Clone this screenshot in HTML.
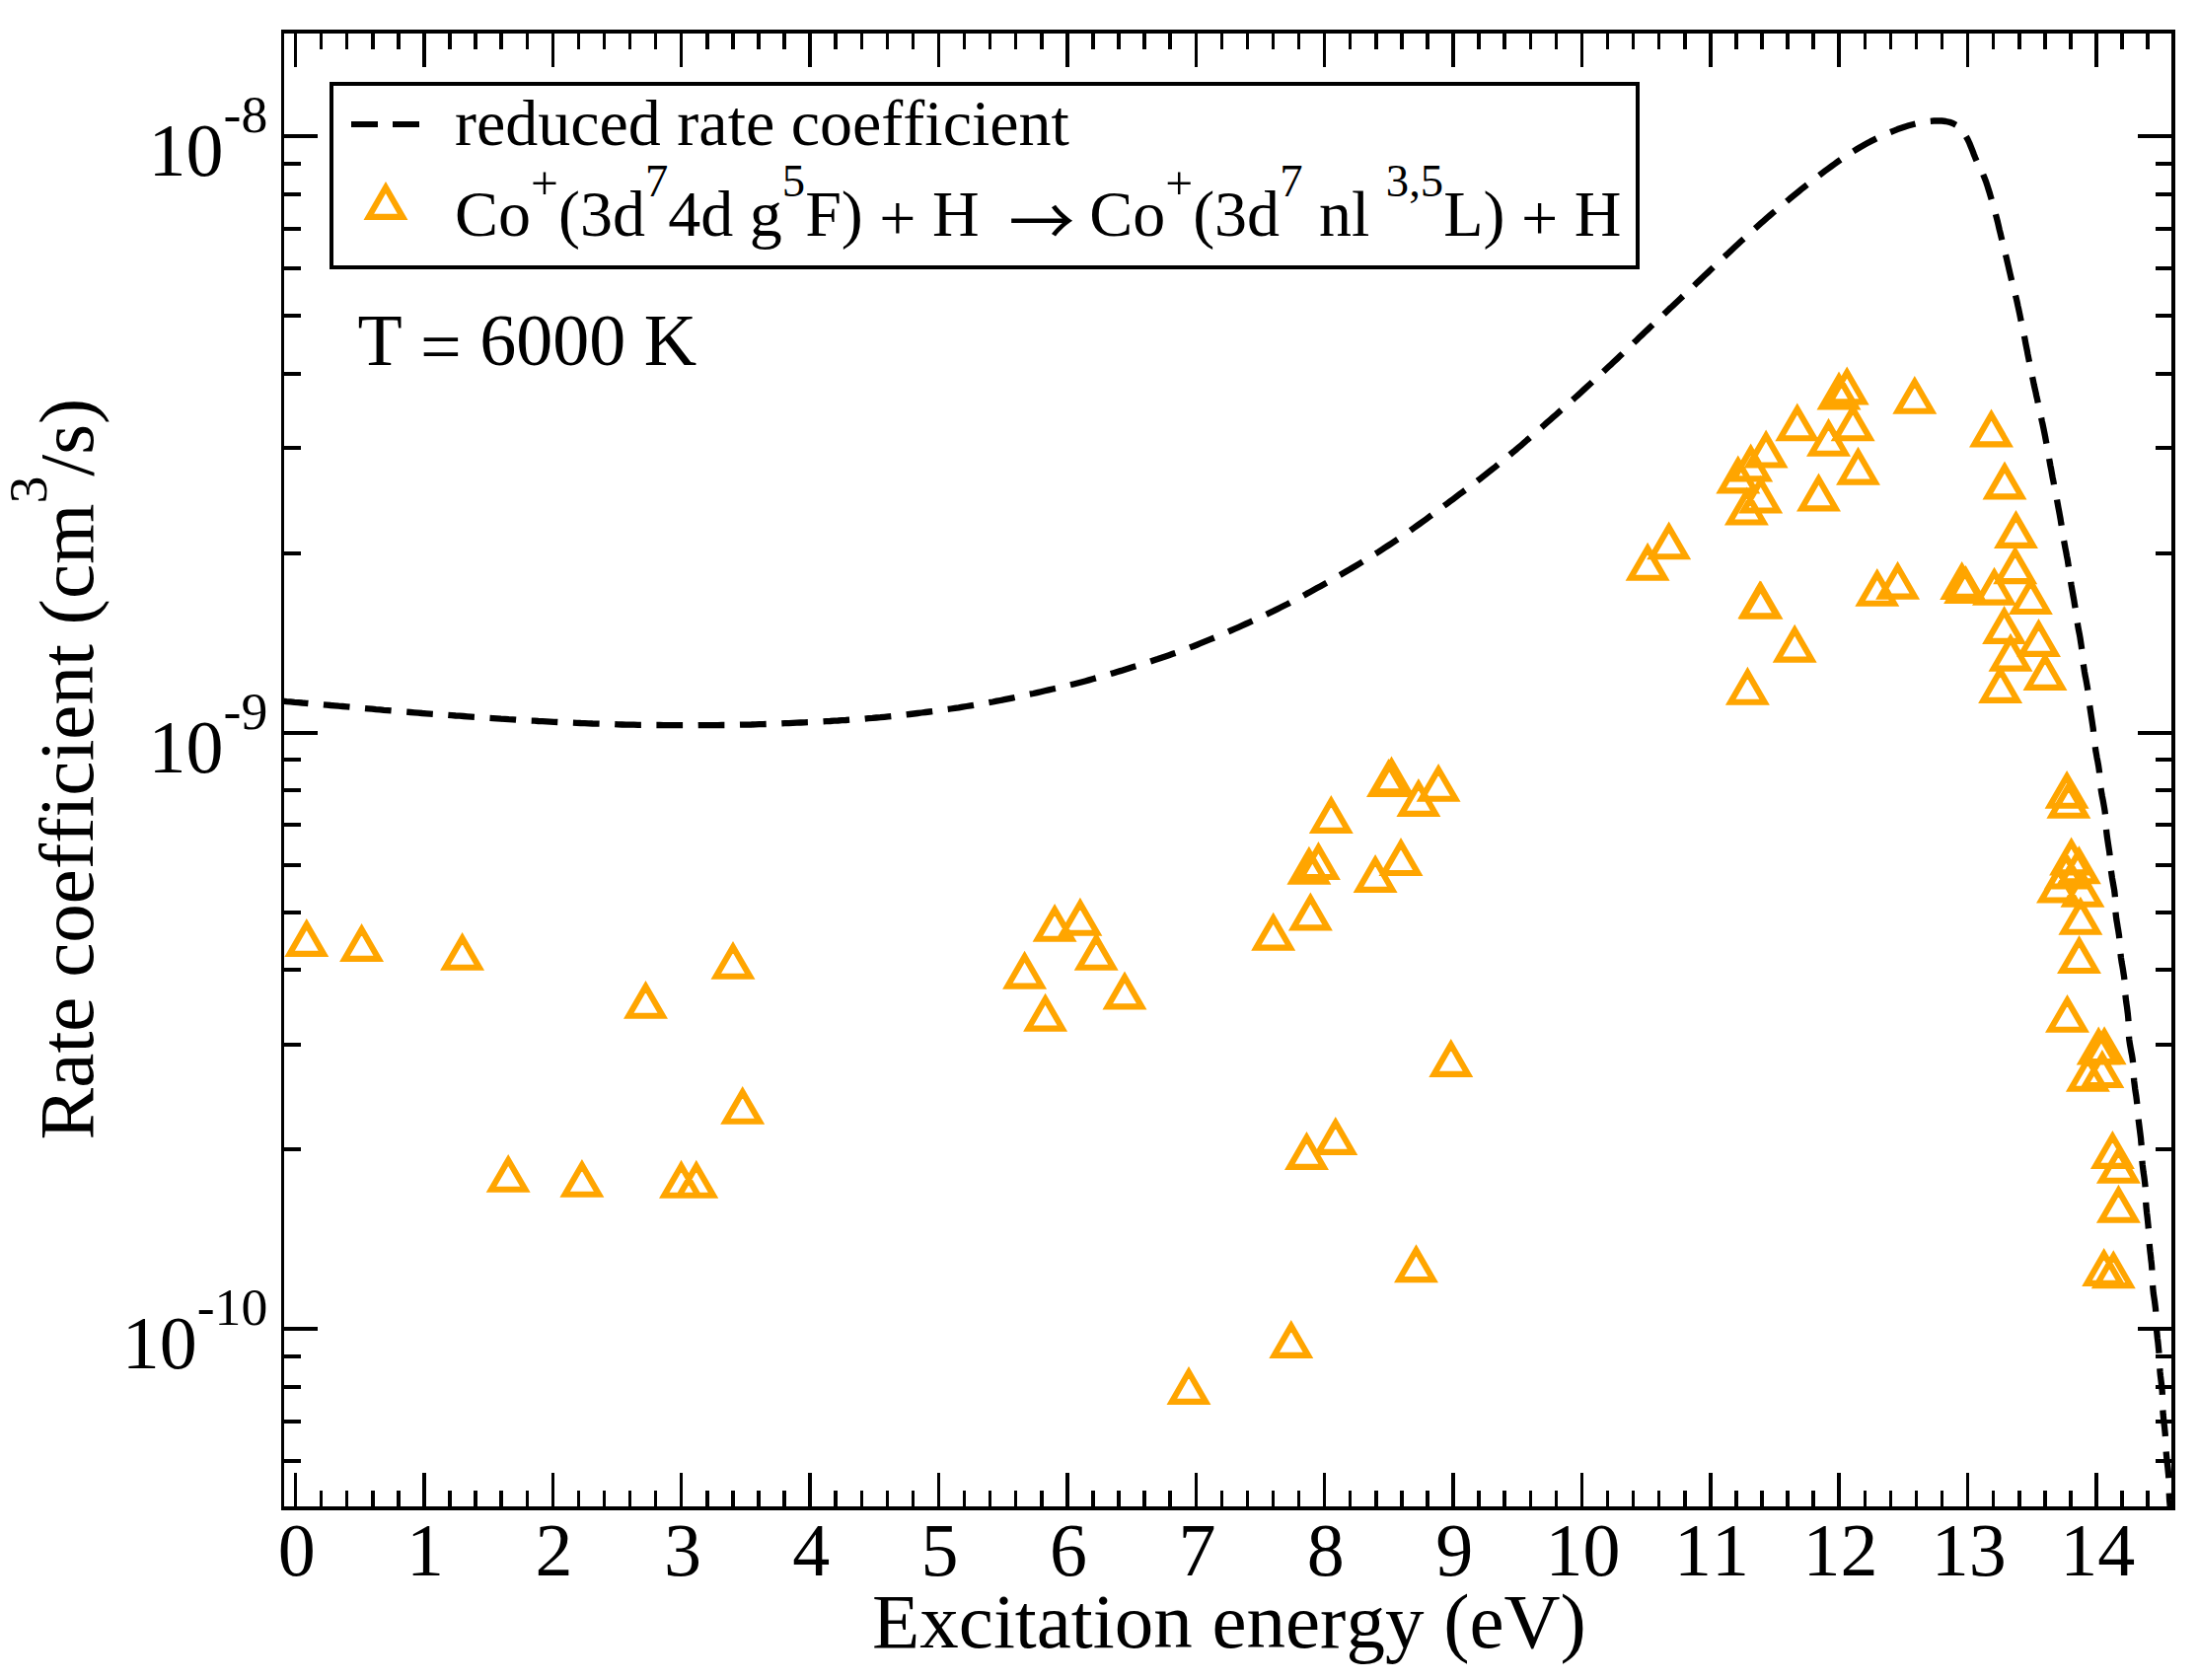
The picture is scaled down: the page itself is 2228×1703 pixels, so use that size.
<!DOCTYPE html>
<html lang="en"><head><meta charset="utf-8"><title>Rate coefficient vs excitation energy</title>
<style>
html,body{margin:0;padding:0;background:#fff;}
svg{display:block;}
text{font-family:"Liberation Serif","Times New Roman",Times,serif;fill:#000;font-variant-ligatures:none;font-feature-settings:"liga" 0,"clig" 0,"kern" 0;font-kerning:none;}
</style></head><body>
<svg width="2228" height="1703" viewBox="0 0 2228 1703">
<rect x="0" y="0" width="2228" height="1703" fill="#fff"/>
<g fill="none" stroke="#000" stroke-width="6.3" stroke-linecap="butt" stroke-linejoin="round">
<path d="M286.5 710.7L290.5 711.1L294.5 711.4L298.5 711.8L302.4 712.1L306.4 712.5L310.4 712.8L312.4 713.0M327.9 714.3L331.3 714.6L335.3 715.0L339.3 715.3L343.3 715.7L347.3 716.0L351.3 716.4L354.5 716.7M370.0 718.1L373.2 718.4L377.1 718.7L381.1 719.1L385.1 719.4L389.1 719.8L393.1 720.1L396.6 720.4M412.2 721.7L416.0 722.0L420.0 722.3L424.0 722.6L428.0 723.0L432.0 723.3L435.9 723.6L438.8 723.8M454.3 724.9L457.9 725.2L461.9 725.5L465.9 725.7L469.9 726.0L473.8 726.3L477.8 726.6L480.9 726.8M496.5 727.9L499.8 728.1L503.8 728.4L507.8 728.7L511.8 728.9L515.7 729.2L519.7 729.4L523.1 729.7M538.7 730.6L541.7 730.7L545.7 731.0L549.7 731.2L553.7 731.4L557.7 731.6L561.7 731.8L565.3 732.0M580.9 732.6L584.6 732.8L588.6 733.0L592.6 733.1L596.6 733.3L600.6 733.5L604.6 733.6L607.6 733.7M623.2 734.2L626.6 734.4L630.6 734.5L634.6 734.6L638.6 734.7L642.6 734.7L646.6 734.8L649.9 734.8M665.4 735.0L668.6 735.0L672.6 735.1L676.6 735.1L680.6 735.1L684.6 735.1L688.6 735.1L692.1 735.1M707.7 735.2L711.6 735.1L715.6 735.1L719.6 735.1L723.6 735.1L727.6 735.1L731.6 735.0L734.4 735.0M750.0 734.7L753.6 734.6L757.6 734.6L761.6 734.5L765.6 734.3L769.6 734.2L773.6 734.1L776.7 734.0M792.3 733.4L795.6 733.2L799.6 733.1L803.6 732.9L807.6 732.7L811.6 732.5L815.6 732.3L818.9 732.2M834.5 731.4L837.5 731.2L841.5 731.0L845.5 730.7L849.5 730.5L853.5 730.2L857.5 730.0L861.1 729.7M876.7 728.6L880.4 728.2L884.4 727.9L888.4 727.5L892.4 727.2L896.4 726.8L900.3 726.4L903.3 726.1M918.7 724.4L922.2 724.0L926.2 723.5L930.2 723.0L934.1 722.5L938.1 722.0L942.1 721.5L945.2 721.1M960.7 718.9L963.8 718.5L967.8 717.9L971.8 717.3L975.7 716.6L979.7 716.0L983.6 715.4L987.0 714.8M1002.4 712.2L1006.3 711.5L1010.2 710.7L1014.1 710.0L1018.1 709.2L1022.0 708.4L1025.9 707.6L1028.6 707.0M1043.8 703.7L1047.4 703.0L1051.3 702.1L1055.2 701.2L1059.1 700.3L1063.0 699.4L1066.9 698.5L1069.9 697.9M1085.0 694.3L1088.3 693.5L1092.2 692.5L1096.1 691.5L1099.9 690.5L1103.8 689.4L1107.6 688.3L1110.8 687.4M1125.8 683.1L1128.8 682.2L1132.6 681.0L1136.4 679.9L1140.2 678.7L1144.1 677.5L1147.9 676.3L1151.3 675.3M1166.2 670.5L1169.8 669.3L1173.6 668.1L1177.4 666.8L1181.2 665.5L1184.9 664.2L1188.7 662.8L1191.4 661.9M1206.0 656.4L1209.3 655.2L1213.1 653.7L1216.8 652.2L1220.5 650.7L1224.2 649.2L1227.9 647.7L1230.8 646.5M1245.1 640.3L1248.1 639.0L1251.8 637.4L1255.4 635.8L1259.1 634.1L1262.7 632.5L1266.4 630.8L1269.5 629.4M1283.6 622.8L1287.2 621.1L1290.8 619.4L1294.4 617.6L1298.0 615.8L1301.5 614.0L1305.1 612.2L1307.5 610.9M1321.3 603.7L1324.5 601.9L1328.1 600.0L1331.6 598.1L1335.1 596.1L1338.6 594.2L1342.1 592.2L1344.7 590.8M1358.2 583.0L1361.2 581.3L1364.6 579.3L1368.1 577.3L1371.5 575.2L1374.9 573.2L1378.4 571.1L1381.2 569.4M1394.4 561.2L1397.1 559.6L1400.5 557.4L1403.8 555.2L1407.2 553.0L1410.5 550.8L1413.8 548.6L1416.8 546.6M1429.6 537.8L1432.7 535.5L1436.0 533.2L1439.2 530.9L1442.5 528.5L1445.7 526.2L1448.9 523.8L1451.2 522.1M1463.7 512.8L1466.6 510.7L1469.8 508.3L1473.0 505.9L1476.2 503.5L1479.4 501.1L1482.6 498.7L1485.1 496.9M1497.5 487.5L1500.2 485.4L1503.3 483.0L1506.5 480.5L1509.6 478.1L1512.8 475.6L1515.9 473.1L1518.5 470.9M1530.5 461.0L1532.8 459.0L1535.9 456.5L1538.9 453.9L1542.0 451.3L1545.0 448.7L1548.0 446.0L1550.8 443.6M1562.5 433.3L1565.3 430.9L1568.3 428.2L1571.3 425.6L1574.3 422.9L1577.3 420.3L1580.3 417.6L1582.5 415.7M1594.1 405.3L1596.7 403.0L1599.7 400.3L1602.7 397.6L1605.6 394.9L1608.6 392.2L1611.5 389.5L1613.9 387.3M1625.3 376.7L1627.6 374.5L1630.5 371.8L1633.5 369.1L1636.4 366.3L1639.3 363.6L1642.2 360.8L1644.7 358.4M1656.0 347.6L1658.8 344.9L1661.7 342.1L1664.6 339.4L1667.5 336.6L1670.4 333.9L1673.3 331.1L1675.3 329.2M1686.6 318.5L1689.2 316.0L1692.1 313.2L1695.1 310.5L1698.0 307.7L1700.9 305.0L1703.8 302.2L1706.0 300.1M1717.3 289.4L1719.7 287.1L1722.6 284.4L1725.5 281.6L1728.4 278.8L1731.3 276.1L1734.2 273.3L1736.6 271.0M1747.9 260.3L1750.2 258.2L1753.1 255.4L1756.0 252.7L1758.9 250.0L1761.9 247.2L1764.8 244.5L1767.5 242.1M1779.0 231.6L1781.8 229.1L1784.8 226.4L1787.8 223.8L1790.8 221.1L1793.9 218.5L1796.9 215.9L1799.1 214.1M1811.1 204.1L1813.8 201.8L1816.9 199.3L1820.0 196.8L1823.1 194.3L1826.2 191.7L1829.3 189.2L1831.8 187.3M1844.1 177.7L1846.7 175.7L1849.9 173.3L1853.1 170.9L1856.3 168.6L1859.6 166.2L1862.8 163.9L1865.7 161.9M1878.7 153.4L1882.1 151.3L1885.5 149.2L1889.0 147.2L1892.5 145.3L1896.0 143.4L1899.6 141.6L1902.0 140.4M1916.2 134.0L1919.7 132.6L1923.4 131.1L1927.2 129.8L1931.0 128.5L1934.8 127.3L1938.7 126.2L1941.5 125.5M1956.8 122.8L1960.3 122.5L1964.3 122.4L1968.3 122.5L1972.3 123.0L1976.2 123.8L1980.0 125.3L1982.7 126.8M1992.9 138.4L1994.6 141.4L1996.3 145.0L1997.8 148.7L1999.3 152.4L2000.7 156.2L2002.2 159.9L2003.5 162.9M2010.2 176.9L2011.4 179.8L2012.9 183.6L2014.2 187.4L2015.4 191.2L2016.6 195.0L2017.7 198.8L2018.7 202.2M2022.9 217.2L2023.9 221.0L2024.9 224.9L2025.8 228.8L2026.7 232.7L2027.7 236.6L2028.6 240.4L2029.3 243.2M2033.0 258.3L2033.9 261.8L2034.8 265.7L2035.7 269.6L2036.6 273.5L2037.5 277.4L2038.4 281.3L2039.1 284.3M2043.0 299.4L2043.8 302.6L2044.7 306.5L2045.5 310.4L2046.4 314.3L2047.2 318.2L2048.0 322.2L2048.7 325.5M2051.9 340.7L2052.5 343.7L2053.2 347.6L2054.0 351.6L2054.8 355.5L2055.5 359.4L2056.3 363.3L2057.0 366.9M2060.1 382.2L2060.9 385.9L2061.7 389.8L2062.6 393.7L2063.5 397.6L2064.3 401.5L2065.2 405.4L2065.8 408.3M2069.1 423.5L2069.8 426.9L2070.7 430.8L2071.5 434.7L2072.3 438.7L2073.1 442.6L2073.8 446.5L2074.4 449.7M2077.1 465.0L2077.7 468.2L2078.4 472.1L2079.2 476.0L2079.9 480.0L2080.6 483.9L2081.4 487.8L2082.0 491.2M2085.0 506.5L2085.7 510.4L2086.4 514.3L2087.2 518.3L2087.9 522.2L2088.6 526.1L2089.2 530.1L2089.7 532.8M2092.1 548.2L2092.8 551.8L2093.5 555.7L2094.3 559.7L2095.0 563.6L2095.8 567.5L2096.4 571.5L2096.9 574.5M2099.1 589.9L2099.6 593.2L2100.3 597.2L2101.0 601.1L2101.7 605.1L2102.4 609.0L2103.0 612.9L2103.6 616.2M2105.8 631.6L2106.3 634.7L2107.0 638.6L2107.8 642.6L2108.5 646.5L2109.1 650.4L2109.7 654.4L2110.2 658.0M2111.8 673.5L2112.4 677.2L2113.0 681.2L2113.7 685.1L2114.5 689.1L2115.2 693.0L2115.9 696.9L2116.3 699.8M2118.2 715.2L2118.7 718.7L2119.3 722.7L2119.9 726.7L2120.5 730.6L2121.1 734.6L2121.7 738.5L2122.0 741.7M2123.8 757.2L2124.2 760.4L2124.9 764.3L2125.6 768.3L2126.4 772.2L2127.1 776.1L2127.7 780.1L2128.1 783.5M2129.5 799.0L2130.1 802.9L2130.8 806.9L2131.6 810.8L2132.3 814.8L2133.0 818.7L2133.6 822.6L2133.9 825.3M2135.0 840.9L2135.4 844.6L2135.9 848.5L2136.5 852.5L2137.1 856.4L2137.7 860.4L2138.3 864.4L2138.6 867.3M2139.9 882.8L2140.4 886.2L2141.0 890.2L2141.7 894.1L2142.4 898.1L2143.1 902.0L2143.6 906.0L2143.9 909.2M2144.5 924.8L2144.8 928.0L2145.3 931.9L2146.0 935.9L2146.6 939.8L2147.3 943.8L2147.9 947.7L2148.3 951.2M2149.5 966.8L2149.9 970.6L2150.5 974.6L2151.2 978.5L2151.9 982.5L2152.5 986.4L2153.1 990.4L2153.4 993.2M2154.4 1008.7L2154.8 1012.3L2155.3 1016.3L2155.9 1020.2L2156.4 1024.2L2156.9 1028.2L2157.3 1032.2L2157.5 1035.2M2158.0 1050.8L2158.3 1054.1L2158.9 1058.1L2159.6 1062.0L2160.3 1065.9L2161.1 1069.9L2161.7 1073.8L2162.1 1077.2M2163.0 1092.7L2163.2 1095.8L2163.7 1099.7L2164.2 1103.7L2164.8 1107.7L2165.4 1111.6L2165.9 1115.6L2166.3 1119.2M2167.6 1134.7L2168.1 1138.5L2168.6 1142.5L2169.1 1146.4L2169.6 1150.4L2170.1 1154.4L2170.4 1158.4L2170.7 1161.2M2171.4 1176.8L2171.7 1180.3L2172.2 1184.3L2172.7 1188.3L2173.3 1192.2L2173.8 1196.2L2174.3 1200.2L2174.6 1203.3M2175.2 1218.9L2175.4 1222.1L2175.8 1226.1L2176.2 1230.1L2176.7 1234.1L2177.1 1238.0L2177.5 1242.0L2177.8 1245.4M2178.7 1261.0L2179.1 1265.0L2179.5 1268.9L2180.0 1272.9L2180.4 1276.9L2180.9 1280.9L2181.2 1284.8L2181.4 1287.6M2182.1 1303.1L2182.4 1306.8L2182.8 1310.8L2183.4 1314.7L2184.0 1318.7L2184.5 1322.7L2185.0 1326.6L2185.2 1329.6M2185.9 1345.2L2186.1 1348.6L2186.5 1352.6L2186.9 1356.6L2187.4 1360.5L2187.8 1364.5L2188.2 1368.5L2188.5 1371.8M2189.3 1387.3L2189.5 1390.5L2189.9 1394.4L2190.4 1398.4L2190.9 1402.4L2191.3 1406.4L2191.7 1410.3L2191.9 1413.9M2192.4 1429.5L2192.6 1433.3L2193.0 1437.3L2193.4 1441.3L2193.9 1445.3L2194.3 1449.2L2194.7 1453.2L2194.9 1456.0M2195.7 1471.6L2196.0 1475.2L2196.4 1479.2L2196.8 1483.1L2197.3 1487.1L2197.7 1491.1L2198.1 1495.1L2198.3 1498.2M2198.8 1513.7L2198.9 1517.0L2199.1 1521.0L2199.5 1525.0L2200.0 1529.0"/>
</g>
<g fill="none" stroke="#ffa500" stroke-width="6.1" stroke-linejoin="miter" stroke-miterlimit="10">
<path d="M310.8 937.1L293.6 966.9L328.0 966.9ZM366.6 942.1L349.4 971.9L383.8 971.9ZM468.6 951.0L451.4 980.8L485.8 980.8ZM743.0 960.0L725.8 989.8L760.2 989.8ZM654.5 1000.0L637.3 1029.8L671.7 1029.8ZM752.7 1107.0L735.5 1136.8L769.9 1136.8ZM515.2 1176.0L498.0 1205.8L532.4 1205.8ZM589.9 1181.0L572.7 1210.8L607.1 1210.8ZM690.5 1181.9L673.3 1211.7L707.7 1211.7ZM705.8 1181.9L688.6 1211.7L723.0 1211.7ZM1038.6 969.8L1021.4 999.6L1055.8 999.6ZM1069.1 922.0L1051.9 951.8L1086.3 951.8ZM1094.9 915.9L1077.7 945.7L1112.1 945.7ZM1111.2 950.9L1094.0 980.7L1128.4 980.7ZM1059.6 1012.8L1042.4 1042.6L1076.8 1042.6ZM1140.0 990.6L1122.8 1020.4L1157.2 1020.4ZM1290.7 930.8L1273.5 960.6L1307.9 960.6ZM1328.4 910.6L1311.2 940.4L1345.6 940.4ZM1326.9 863.8L1309.7 893.6L1344.1 893.6ZM1336.4 859.2L1319.2 889.0L1353.6 889.0ZM1349.3 812.1L1332.1 841.9L1366.5 841.9ZM1394.1 872.1L1376.9 901.9L1411.3 901.9ZM1420.0 855.2L1402.8 885.0L1437.2 885.0ZM1410.5 772.6L1393.3 802.4L1427.7 802.4ZM1407.5 775.2L1390.3 805.0L1424.7 805.0ZM1437.9 795.1L1420.7 824.9L1455.1 824.9ZM1458.1 780.0L1440.9 809.8L1475.3 809.8ZM1470.8 1059.1L1453.6 1088.9L1488.0 1088.9ZM1353.8 1138.1L1336.6 1167.9L1371.0 1167.9ZM1324.5 1153.1L1307.3 1182.9L1341.7 1182.9ZM1435.5 1267.3L1418.3 1297.1L1452.7 1297.1ZM1308.8 1344.1L1291.6 1373.9L1326.0 1373.9ZM1205.0 1391.1L1187.8 1420.9L1222.2 1420.9ZM1670.1 555.9L1652.9 585.7L1687.3 585.7ZM1691.7 534.5L1674.5 564.3L1708.9 564.3ZM1761.8 467.6L1744.6 497.4L1779.0 497.4ZM1774.7 455.6L1757.5 485.4L1791.9 485.4ZM1790.1 441.7L1772.9 471.5L1807.3 471.5ZM1770.4 499.7L1753.2 529.5L1787.6 529.5ZM1784.7 487.7L1767.5 517.5L1801.9 517.5ZM1821.8 414.5L1804.6 444.3L1839.0 444.3ZM1853.5 429.9L1836.3 459.7L1870.7 459.7ZM1843.5 485.6L1826.3 515.4L1860.7 515.4ZM1872.2 377.6L1855.0 407.4L1889.4 407.4ZM1864.0 382.7L1846.8 412.5L1881.2 412.5ZM1878.2 414.5L1861.0 444.3L1895.4 444.3ZM1883.5 458.8L1866.3 488.6L1900.7 488.6ZM1940.8 387.0L1923.6 416.8L1958.0 416.8ZM1783.9 594.5L1766.7 624.3L1801.1 624.3ZM1785.0 594.9L1767.8 624.7L1802.2 624.7ZM1819.2 638.8L1802.0 668.6L1836.4 668.6ZM1771.4 681.9L1754.2 711.7L1788.6 711.7ZM1902.8 582.0L1885.6 611.8L1920.0 611.8ZM1923.6 574.8L1906.4 604.6L1940.8 604.6ZM2018.5 420.6L2001.3 450.4L2035.7 450.4ZM2032.0 473.6L2014.8 503.4L2049.2 503.4ZM2043.5 523.1L2026.3 552.9L2060.7 552.9ZM2042.7 559.3L2025.5 589.1L2059.9 589.1ZM1988.7 575.1L1971.5 604.9L2005.9 604.9ZM1992.6 579.1L1975.4 608.9L2009.8 608.9ZM2021.5 580.8L2004.3 610.6L2038.7 610.6ZM2058.4 590.2L2041.2 620.0L2075.6 620.0ZM2031.6 620.1L2014.4 649.9L2048.8 649.9ZM2066.5 633.1L2049.3 662.9L2083.7 662.9ZM2038.0 647.8L2020.8 677.6L2055.2 677.6ZM2073.0 667.1L2055.8 696.9L2090.2 696.9ZM2027.6 680.1L2010.4 709.9L2044.8 709.9ZM2095.1 787.0L2077.9 816.8L2112.3 816.8ZM2096.9 797.0L2079.7 826.8L2114.1 826.8ZM2099.6 854.6L2082.4 884.4L2116.8 884.4ZM2107.4 863.4L2090.2 893.2L2124.6 893.2ZM2086.5 882.7L2069.3 912.5L2103.7 912.5ZM2111.0 887.0L2093.8 916.8L2128.2 916.8ZM2094.3 868.7L2077.1 898.5L2111.5 898.5ZM2108.9 914.9L2091.7 944.7L2126.1 944.7ZM2107.5 954.2L2090.3 984.0L2124.7 984.0ZM2095.5 1014.0L2078.3 1043.8L2112.7 1043.8ZM2133.1 1046.3L2115.9 1076.1L2150.3 1076.1ZM2127.2 1046.7L2110.0 1076.5L2144.4 1076.5ZM2116.4 1074.0L2099.2 1103.8L2133.6 1103.8ZM2130.9 1070.2L2113.7 1100.0L2148.1 1100.0ZM2141.4 1152.1L2124.2 1181.9L2158.6 1181.9ZM2147.4 1166.9L2130.2 1196.7L2164.6 1196.7ZM2147.4 1206.9L2130.2 1236.7L2164.6 1236.7ZM2132.7 1271.1L2115.5 1300.9L2149.9 1300.9ZM2142.3 1273.3L2125.1 1303.1L2159.5 1303.1Z"/>
</g>
<g fill="#000" shape-rendering="crispEdges">
<rect x="285" y="30" width="1920" height="4"/>
<rect x="285" y="1527" width="1920" height="4"/>
<rect x="285" y="30" width="3" height="1501"/>
<rect x="2201" y="30" width="4" height="1501"/>
<rect x="297.8" y="32" width="3.5" height="36"/>
<rect x="297.8" y="1493" width="3.5" height="36"/>
<rect x="323.8" y="32" width="3.5" height="18"/>
<rect x="323.8" y="1511" width="3.5" height="18"/>
<rect x="349.9" y="32" width="3.5" height="18"/>
<rect x="349.9" y="1511" width="3.5" height="18"/>
<rect x="376.0" y="32" width="3.5" height="18"/>
<rect x="376.0" y="1511" width="3.5" height="18"/>
<rect x="402.1" y="32" width="3.5" height="18"/>
<rect x="402.1" y="1511" width="3.5" height="18"/>
<rect x="428.1" y="32" width="3.5" height="36"/>
<rect x="428.1" y="1493" width="3.5" height="36"/>
<rect x="454.2" y="32" width="3.5" height="18"/>
<rect x="454.2" y="1511" width="3.5" height="18"/>
<rect x="480.3" y="32" width="3.5" height="18"/>
<rect x="480.3" y="1511" width="3.5" height="18"/>
<rect x="506.4" y="32" width="3.5" height="18"/>
<rect x="506.4" y="1511" width="3.5" height="18"/>
<rect x="532.5" y="32" width="3.5" height="18"/>
<rect x="532.5" y="1511" width="3.5" height="18"/>
<rect x="558.5" y="32" width="3.5" height="36"/>
<rect x="558.5" y="1493" width="3.5" height="36"/>
<rect x="584.6" y="32" width="3.5" height="18"/>
<rect x="584.6" y="1511" width="3.5" height="18"/>
<rect x="610.7" y="32" width="3.5" height="18"/>
<rect x="610.7" y="1511" width="3.5" height="18"/>
<rect x="636.8" y="32" width="3.5" height="18"/>
<rect x="636.8" y="1511" width="3.5" height="18"/>
<rect x="662.8" y="32" width="3.5" height="18"/>
<rect x="662.8" y="1511" width="3.5" height="18"/>
<rect x="688.9" y="32" width="3.5" height="36"/>
<rect x="688.9" y="1493" width="3.5" height="36"/>
<rect x="715.0" y="32" width="3.5" height="18"/>
<rect x="715.0" y="1511" width="3.5" height="18"/>
<rect x="741.1" y="32" width="3.5" height="18"/>
<rect x="741.1" y="1511" width="3.5" height="18"/>
<rect x="767.2" y="32" width="3.5" height="18"/>
<rect x="767.2" y="1511" width="3.5" height="18"/>
<rect x="793.2" y="32" width="3.5" height="18"/>
<rect x="793.2" y="1511" width="3.5" height="18"/>
<rect x="819.3" y="32" width="3.5" height="36"/>
<rect x="819.3" y="1493" width="3.5" height="36"/>
<rect x="845.4" y="32" width="3.5" height="18"/>
<rect x="845.4" y="1511" width="3.5" height="18"/>
<rect x="871.5" y="32" width="3.5" height="18"/>
<rect x="871.5" y="1511" width="3.5" height="18"/>
<rect x="897.5" y="32" width="3.5" height="18"/>
<rect x="897.5" y="1511" width="3.5" height="18"/>
<rect x="923.6" y="32" width="3.5" height="18"/>
<rect x="923.6" y="1511" width="3.5" height="18"/>
<rect x="949.7" y="32" width="3.5" height="36"/>
<rect x="949.7" y="1493" width="3.5" height="36"/>
<rect x="975.8" y="32" width="3.5" height="18"/>
<rect x="975.8" y="1511" width="3.5" height="18"/>
<rect x="1001.9" y="32" width="3.5" height="18"/>
<rect x="1001.9" y="1511" width="3.5" height="18"/>
<rect x="1027.9" y="32" width="3.5" height="18"/>
<rect x="1027.9" y="1511" width="3.5" height="18"/>
<rect x="1054.0" y="32" width="3.5" height="18"/>
<rect x="1054.0" y="1511" width="3.5" height="18"/>
<rect x="1080.1" y="32" width="3.5" height="36"/>
<rect x="1080.1" y="1493" width="3.5" height="36"/>
<rect x="1106.2" y="32" width="3.5" height="18"/>
<rect x="1106.2" y="1511" width="3.5" height="18"/>
<rect x="1132.2" y="32" width="3.5" height="18"/>
<rect x="1132.2" y="1511" width="3.5" height="18"/>
<rect x="1158.3" y="32" width="3.5" height="18"/>
<rect x="1158.3" y="1511" width="3.5" height="18"/>
<rect x="1184.4" y="32" width="3.5" height="18"/>
<rect x="1184.4" y="1511" width="3.5" height="18"/>
<rect x="1210.5" y="32" width="3.5" height="36"/>
<rect x="1210.5" y="1493" width="3.5" height="36"/>
<rect x="1236.6" y="32" width="3.5" height="18"/>
<rect x="1236.6" y="1511" width="3.5" height="18"/>
<rect x="1262.6" y="32" width="3.5" height="18"/>
<rect x="1262.6" y="1511" width="3.5" height="18"/>
<rect x="1288.7" y="32" width="3.5" height="18"/>
<rect x="1288.7" y="1511" width="3.5" height="18"/>
<rect x="1314.8" y="32" width="3.5" height="18"/>
<rect x="1314.8" y="1511" width="3.5" height="18"/>
<rect x="1340.9" y="32" width="3.5" height="36"/>
<rect x="1340.9" y="1493" width="3.5" height="36"/>
<rect x="1366.9" y="32" width="3.5" height="18"/>
<rect x="1366.9" y="1511" width="3.5" height="18"/>
<rect x="1393.0" y="32" width="3.5" height="18"/>
<rect x="1393.0" y="1511" width="3.5" height="18"/>
<rect x="1419.1" y="32" width="3.5" height="18"/>
<rect x="1419.1" y="1511" width="3.5" height="18"/>
<rect x="1445.2" y="32" width="3.5" height="18"/>
<rect x="1445.2" y="1511" width="3.5" height="18"/>
<rect x="1471.3" y="32" width="3.5" height="36"/>
<rect x="1471.3" y="1493" width="3.5" height="36"/>
<rect x="1497.3" y="32" width="3.5" height="18"/>
<rect x="1497.3" y="1511" width="3.5" height="18"/>
<rect x="1523.4" y="32" width="3.5" height="18"/>
<rect x="1523.4" y="1511" width="3.5" height="18"/>
<rect x="1549.5" y="32" width="3.5" height="18"/>
<rect x="1549.5" y="1511" width="3.5" height="18"/>
<rect x="1575.6" y="32" width="3.5" height="18"/>
<rect x="1575.6" y="1511" width="3.5" height="18"/>
<rect x="1601.6" y="32" width="3.5" height="36"/>
<rect x="1601.6" y="1493" width="3.5" height="36"/>
<rect x="1627.7" y="32" width="3.5" height="18"/>
<rect x="1627.7" y="1511" width="3.5" height="18"/>
<rect x="1653.8" y="32" width="3.5" height="18"/>
<rect x="1653.8" y="1511" width="3.5" height="18"/>
<rect x="1679.9" y="32" width="3.5" height="18"/>
<rect x="1679.9" y="1511" width="3.5" height="18"/>
<rect x="1706.0" y="32" width="3.5" height="18"/>
<rect x="1706.0" y="1511" width="3.5" height="18"/>
<rect x="1732.0" y="32" width="3.5" height="36"/>
<rect x="1732.0" y="1493" width="3.5" height="36"/>
<rect x="1758.1" y="32" width="3.5" height="18"/>
<rect x="1758.1" y="1511" width="3.5" height="18"/>
<rect x="1784.2" y="32" width="3.5" height="18"/>
<rect x="1784.2" y="1511" width="3.5" height="18"/>
<rect x="1810.3" y="32" width="3.5" height="18"/>
<rect x="1810.3" y="1511" width="3.5" height="18"/>
<rect x="1836.4" y="32" width="3.5" height="18"/>
<rect x="1836.4" y="1511" width="3.5" height="18"/>
<rect x="1862.4" y="32" width="3.5" height="36"/>
<rect x="1862.4" y="1493" width="3.5" height="36"/>
<rect x="1888.5" y="32" width="3.5" height="18"/>
<rect x="1888.5" y="1511" width="3.5" height="18"/>
<rect x="1914.6" y="32" width="3.5" height="18"/>
<rect x="1914.6" y="1511" width="3.5" height="18"/>
<rect x="1940.7" y="32" width="3.5" height="18"/>
<rect x="1940.7" y="1511" width="3.5" height="18"/>
<rect x="1966.7" y="32" width="3.5" height="18"/>
<rect x="1966.7" y="1511" width="3.5" height="18"/>
<rect x="1992.8" y="32" width="3.5" height="36"/>
<rect x="1992.8" y="1493" width="3.5" height="36"/>
<rect x="2018.9" y="32" width="3.5" height="18"/>
<rect x="2018.9" y="1511" width="3.5" height="18"/>
<rect x="2045.0" y="32" width="3.5" height="18"/>
<rect x="2045.0" y="1511" width="3.5" height="18"/>
<rect x="2071.1" y="32" width="3.5" height="18"/>
<rect x="2071.1" y="1511" width="3.5" height="18"/>
<rect x="2097.1" y="32" width="3.5" height="18"/>
<rect x="2097.1" y="1511" width="3.5" height="18"/>
<rect x="2123.2" y="32" width="3.5" height="36"/>
<rect x="2123.2" y="1493" width="3.5" height="36"/>
<rect x="2149.3" y="32" width="3.5" height="18"/>
<rect x="2149.3" y="1511" width="3.5" height="18"/>
<rect x="2175.4" y="32" width="3.5" height="18"/>
<rect x="2175.4" y="1511" width="3.5" height="18"/>
<rect x="286" y="1479" width="19" height="4"/>
<rect x="2185" y="1479" width="18" height="4"/>
<rect x="286" y="1439" width="19" height="4"/>
<rect x="2185" y="1439" width="18" height="4"/>
<rect x="286" y="1404" width="19" height="4"/>
<rect x="2185" y="1404" width="18" height="4"/>
<rect x="286" y="1373" width="19" height="4"/>
<rect x="2185" y="1373" width="18" height="4"/>
<rect x="286" y="1345" width="36" height="4"/>
<rect x="2167" y="1345" width="36" height="4"/>
<rect x="286" y="1163" width="19" height="4"/>
<rect x="2185" y="1163" width="18" height="4"/>
<rect x="286" y="1057" width="19" height="4"/>
<rect x="2185" y="1057" width="18" height="4"/>
<rect x="286" y="981" width="19" height="4"/>
<rect x="2185" y="981" width="18" height="4"/>
<rect x="286" y="923" width="19" height="4"/>
<rect x="2185" y="923" width="18" height="4"/>
<rect x="286" y="875" width="19" height="4"/>
<rect x="2185" y="875" width="18" height="4"/>
<rect x="286" y="834" width="19" height="4"/>
<rect x="2185" y="834" width="18" height="4"/>
<rect x="286" y="799" width="19" height="4"/>
<rect x="2185" y="799" width="18" height="4"/>
<rect x="286" y="768" width="19" height="4"/>
<rect x="2185" y="768" width="18" height="4"/>
<rect x="286" y="741" width="36" height="4"/>
<rect x="2167" y="741" width="36" height="4"/>
<rect x="286" y="559" width="19" height="4"/>
<rect x="2185" y="559" width="18" height="4"/>
<rect x="286" y="452" width="19" height="4"/>
<rect x="2185" y="452" width="18" height="4"/>
<rect x="286" y="377" width="19" height="4"/>
<rect x="2185" y="377" width="18" height="4"/>
<rect x="286" y="318" width="19" height="4"/>
<rect x="2185" y="318" width="18" height="4"/>
<rect x="286" y="270" width="19" height="4"/>
<rect x="2185" y="270" width="18" height="4"/>
<rect x="286" y="230" width="19" height="4"/>
<rect x="2185" y="230" width="18" height="4"/>
<rect x="286" y="195" width="19" height="4"/>
<rect x="2185" y="195" width="18" height="4"/>
<rect x="286" y="164" width="19" height="4"/>
<rect x="2185" y="164" width="18" height="4"/>
<rect x="286" y="136" width="36" height="4"/>
<rect x="2167" y="136" width="36" height="4"/>
</g>
<g fill="none" stroke="#000" shape-rendering="crispEdges">
<rect x="336" y="85" width="1324" height="186" stroke-width="4" fill="#fff"/>
<path d="M356 126H383M398 126H425" stroke-width="6"/>
</g>
<path d="M391.0 190.1L373.8 219.9L408.2 219.9Z" fill="none" stroke="#ffa500" stroke-width="6.1" stroke-miterlimit="10"/>
<text x="461" y="147.2" font-size="66.0">reduced rate coefficient</text>
<text x="461" y="238.7" font-size="66.0" xml:space="preserve">Co<tspan dy="-36.3" font-size="49.5">+</tspan><tspan dy="36.3" font-size="66.0">&#8203;</tspan>(3d<tspan dy="-39.6" font-size="46.7">7</tspan><tspan dy="39.6" font-size="66.0">&#8203;</tspan>4d g<tspan dy="-39.6" font-size="46.7">5</tspan><tspan dy="39.6" font-size="66.0">&#8203;</tspan>F) <tspan dy="4">+</tspan><tspan dy="-4"> H</tspan></text>
<text x="1022.6" y="248.7" font-size="67" style="font-family:'Noto Sans CJK SC','DejaVu Sans',sans-serif">→</text>
<text x="1104.2" y="238.7" font-size="66.0" xml:space="preserve">Co<tspan dy="-36.3" font-size="49.5">+</tspan><tspan dy="36.3" font-size="66.0">&#8203;</tspan>(3d<tspan dy="-39.6" font-size="46.7">7</tspan><tspan dy="39.6" font-size="66.0">&#8203;</tspan> nl <tspan dy="-39.6" font-size="46.7">3,5</tspan><tspan dy="39.6" font-size="66.0">&#8203;</tspan>L) <tspan dy="4">+</tspan><tspan dy="-4"> H</tspan></text>
<text x="362.4" y="370" font-size="74" xml:space="preserve">T <tspan dy="5.5">=</tspan><tspan dy="-5.5"> 6000 K</tspan></text>
<text x="300.7" y="1597.4" font-size="76" text-anchor="middle">0</text>
<text x="431.1" y="1597.4" font-size="76" text-anchor="middle">1</text>
<text x="561.5" y="1597.4" font-size="76" text-anchor="middle">2</text>
<text x="691.9" y="1597.4" font-size="76" text-anchor="middle">3</text>
<text x="822.3" y="1597.4" font-size="76" text-anchor="middle">4</text>
<text x="952.6" y="1597.4" font-size="76" text-anchor="middle">5</text>
<text x="1083.0" y="1597.4" font-size="76" text-anchor="middle">6</text>
<text x="1213.4" y="1597.4" font-size="76" text-anchor="middle">7</text>
<text x="1343.8" y="1597.4" font-size="76" text-anchor="middle">8</text>
<text x="1474.2" y="1597.4" font-size="76" text-anchor="middle">9</text>
<text x="1604.6" y="1597.4" font-size="76" text-anchor="middle">10</text>
<text x="1735.0" y="1597.4" font-size="76" text-anchor="middle">11</text>
<text x="1865.4" y="1597.4" font-size="76" text-anchor="middle">12</text>
<text x="1995.8" y="1597.4" font-size="76" text-anchor="middle">13</text>
<text x="2126.2" y="1597.4" font-size="76" text-anchor="middle">14</text>
<text x="271.3" y="178.4" font-size="76" text-anchor="end">10<tspan dy="-44.0" font-size="53.7">-8</tspan><tspan dy="44.0" font-size="76.0">&#8203;</tspan></text>
<text x="271.3" y="782.7" font-size="76" text-anchor="end">10<tspan dy="-44.0" font-size="53.7">-9</tspan><tspan dy="44.0" font-size="76.0">&#8203;</tspan></text>
<text x="271.3" y="1387.0" font-size="76" text-anchor="end">10<tspan dy="-44.0" font-size="53.7">-10</tspan><tspan dy="44.0" font-size="76.0">&#8203;</tspan></text>
<text x="1246" y="1669.6" font-size="79.0" text-anchor="middle">Excitation energy (eV)</text>
<text transform="translate(94 779.5) rotate(-90)" font-size="79.0" text-anchor="middle">Rate coefficient (cm<tspan dy="-47.4" font-size="55.9">3</tspan><tspan dy="47.4" font-size="79.0">&#8203;</tspan>/s)</text>
</svg></body></html>
